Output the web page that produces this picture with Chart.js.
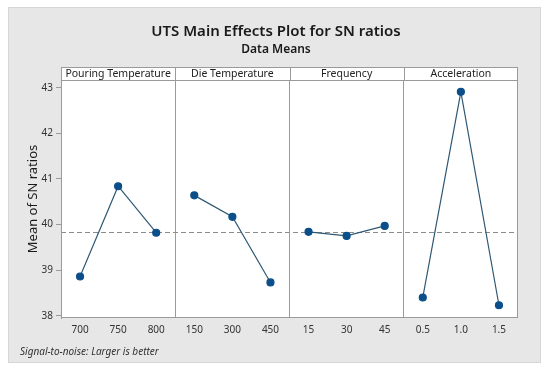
<!DOCTYPE html>
<html>
<head>
<meta charset="utf-8">
<script src="https://cdn.jsdelivr.net/npm/chart.js@4.4.0/dist/chart.umd.min.js"></script>
<style>
    html, body { margin: 0; padding: 0; background: #fff; }
</style>
</head>
<body>
<canvas id="myChart" width="550" height="370"></canvas>
<script>
//MAIN EFFECTS PLOT FOR SN RATIOS
//==============================================
var factors = ["Pouring Temperature", "Die Temperature", "Frequency", "Acceleration"];
var levels = ["700", "750", "800", "150", "300", "450", "15", "30", "45", "0.5", "1.0", "1.5"];
var pouringTemp = [38.86, 40.84, 39.82];
var dieTemp = [40.64, 40.17, 38.73];
var frequency = [39.84, 39.75, 39.97];
var acceleration = [38.40, 42.91, 38.23];
var yTicks = [38, 39, 40, 41, 42, 43];

var groups = [pouringTemp, dieTemp, frequency, acceleration];
var grandMean = groups.flat().reduce(function (a, b) { return a + b; }, 0) / groups.flat().length;

//one dataset per factor, null outside its own panel
function panelData(k) {
    var out = [];
    for (var i = 0; i < levels.length; i++) {
        var g = Math.floor(i / 3);
        out.push(g === k ? groups[k][i % 3] : null);
    }
    return out;
}

var fontFam = "'Noto Sans', 'Open Sans', sans-serif";
Chart.defaults.font.family = fontFam;

//background, panel strips, reference line, frame and texts
var panelPlugin = {
    id: 'panelPlugin',
    beforeDraw: function (chart) {
        var c = chart.ctx, a = chart.chartArea;
        c.save();
        c.fillStyle = '#ffffff';
        c.fillRect(0, 0, chart.width, chart.height);
        c.fillStyle = '#e7e7e7';
        c.fillRect(8, 7, 533, 356);
        c.strokeStyle = '#d6d6d6';
        c.strokeRect(8.5, 7.5, 532, 355);
        c.fillStyle = '#ffffff';
        c.fillRect(a.left, a.top, a.right - a.left, a.bottom - a.top);

        //titles
        c.fillStyle = '#1a1a1a';
        c.textAlign = 'center';
        c.textBaseline = 'alphabetic';
        c.font = "600 15px " + fontFam;
        c.fillText("UTS Main Effects Plot for SN ratios", 276, 36);
        c.font = "600 12px " + fontFam;
        c.fillText("Data Means", 276, 53);

        //footer
        c.textAlign = 'left';
        c.font = "italic 10px " + fontFam;
        c.fillStyle = '#333';
        c.fillText("Signal-to-noise: Larger is better", 20, 355);

        //panel header strip
        var x = chart.scales.x;
        var top = a.top - 13;
        c.fillStyle = '#ffffff';
        c.fillRect(a.left, top, a.right - a.left, 13);
        c.strokeStyle = '#9a9a9a';
        c.lineWidth = 1;
        c.strokeRect(a.left + 0.5, top + 0.5, a.right - a.left - 1, 13);
        c.fillStyle = '#222';
        c.textAlign = 'center';
        c.textBaseline = 'middle';
        c.font = "10.5px " + fontFam;
        for (var k = 0; k < factors.length; k++) {
            c.fillText(factors[k], x.getPixelForTick(k * 3 + 1), top + 7);
            if (k > 0) {
                var bx = Math.round((x.getPixelForTick(k * 3 - 1) + x.getPixelForTick(k * 3)) / 2) + 0.5;
                c.beginPath();
                c.moveTo(bx, top);
                c.lineTo(bx, top + 13);
                c.stroke();
            }
        }
        c.restore();
    },
    beforeDatasetsDraw: function (chart) {
        var c = chart.ctx, a = chart.chartArea;
        var yy = Math.round(chart.scales.y.getPixelForValue(grandMean)) + 0.5;
        c.save();
        c.strokeStyle = '#8c8c8c';
        c.lineWidth = 1;
        c.setLineDash([5, 3]);
        c.beginPath();
        c.moveTo(a.left, yy);
        c.lineTo(a.right, yy);
        c.stroke();
        c.restore();
    },
    afterDraw: function (chart) {
        var c = chart.ctx, a = chart.chartArea;
        c.save();
        c.strokeStyle = '#9a9a9a';
        c.lineWidth = 1;
        c.strokeRect(a.left + 0.5, a.top + 0.5, a.right - a.left - 1, a.bottom - a.top - 1);
        c.restore();
    }
};

function main() {
    var ctx = document.getElementById("myChart").getContext("2d");
    var sets = [];
    for (var k = 0; k < factors.length; k++) {
        sets.push({
            label: factors[k],
            data: panelData(k),
            borderColor: '#2f5873',
            borderWidth: 1.2,
            pointRadius: 3.5,
            pointBackgroundColor: '#0b4f8a',
            pointBorderColor: '#0b4f8a',
            spanGaps: false,
            tension: 0
        });
    }
    new Chart(ctx, {
        type: 'line',
        data: {
            labels: levels,
            datasets: sets
        },
        options: {
            responsive: false,
            animation: false,
            devicePixelRatio: 1,
            layout: {
                padding: {top: 80, left: 0, right: 32, bottom: 0}
            },
            plugins: {
                legend: {display: false},
                tooltip: {enabled: false}
            },
            scales: {
                x: {
                    type: 'category',
                    offset: true,
                    border: {display: false},
                    grid: {
                        offset: true,
                        drawTicks: false,
                        color: function (c) {
                            return (c.index > 0 && c.index % 3 === 0) ? '#9a9a9a' : 'rgba(0,0,0,0)';
                        }
                    },
                    ticks: {
                        padding: 6,
                        color: '#333',
                        font: {size: 10},
                        maxRotation: 0,
                        autoSkip: false
                    },
                    afterFit: function (scale) {
                        scale.height = 52;
                    }
                },
                y: {
                    min: 37.95,
                    max: 43.17,
                    border: {display: true, color: '#9a9a9a'},
                    grid: {
                        drawOnChartArea: false,
                        tickLength: 5,
                        tickColor: '#9a9a9a'
                    },
                    ticks: {
                        padding: 3,
                        color: '#333',
                        font: {size: 10}
                    },
                    afterBuildTicks: function (scale) {
                        scale.ticks = yTicks.map(function (v) { return {value: v}; });
                    },
                    title: {
                        display: true,
                        text: 'Mean of SN ratios',
                        color: '#1a1a1a',
                        font: {size: 13},
                        padding: {top: 25, bottom: 0}
                    },
                    afterFit: function (scale) {
                        scale.width = 61;
                    }
                }
            }
        },
        plugins: [panelPlugin]
    });
}

window.onload = main;
</script>
</body>
</html>
